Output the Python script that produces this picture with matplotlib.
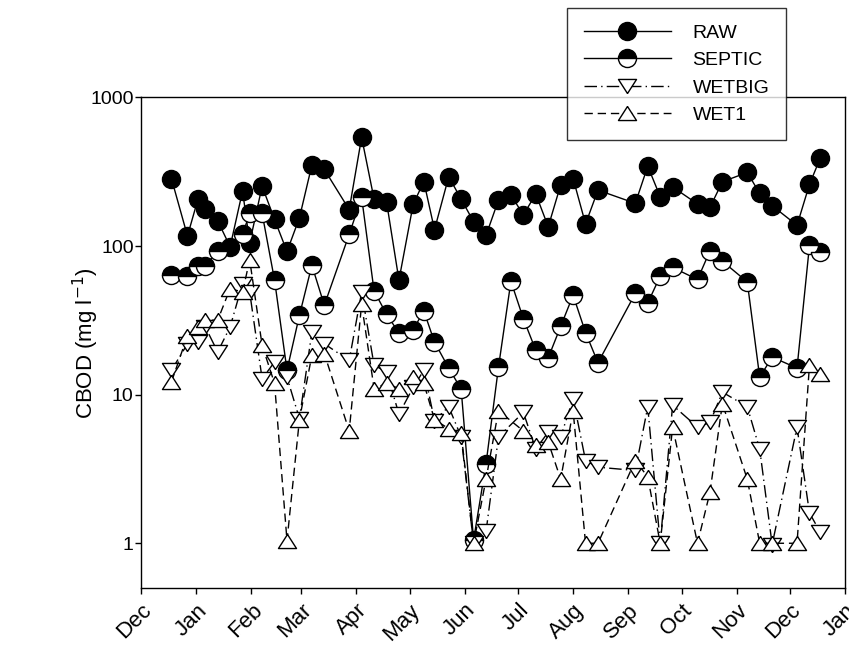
import numpy as np
import pandas as pd
import matplotlib
matplotlib.use("Agg")
import matplotlib.pyplot as plt
import matplotlib.ticker as mticker

plt.rcParams["font.family"] = ["Liberation Sans", "DejaVu Sans"]

# ---- data ----
raw_dates = ["2001-12-18", "2001-12-27", "2002-01-02", "2002-01-06", "2002-01-13",
             "2002-01-20", "2002-01-27", "2002-01-31", "2002-02-07", "2002-02-14",
             "2002-02-21", "2002-02-28", "2002-03-07", "2002-03-14", "2002-03-28",
             "2002-04-04", "2002-04-11", "2002-04-18", "2002-04-25", "2002-05-03",
             "2002-05-09", "2002-05-15", "2002-05-23", "2002-05-30", "2002-06-06",
             "2002-06-13", "2002-06-20", "2002-06-27", "2002-07-04", "2002-07-11",
             "2002-07-18", "2002-07-25", "2002-08-01", "2002-08-08", "2002-08-15",
             "2002-09-05", "2002-09-12", "2002-09-19", "2002-09-26", "2002-10-10",
             "2002-10-17", "2002-10-24", "2002-11-07", "2002-11-14", "2002-11-21",
             "2002-12-05", "2002-12-12", "2002-12-18"]
raw = [284, 117, 209, 177, 148, 99, 235, 105, 253, 151,
       92, 155, 351, 328, 176, 539, 207, 199, 59, 191,
       272, 129, 293, 207, 146, 118, 204, 221, 162, 224,
       135, 258, 285, 141, 238, 194, 345, 215, 250, 192,
       182, 271, 313, 226, 187, 138, 260, 389]

septic_dates = ["2001-12-18", "2001-12-27", "2002-01-02", "2002-01-06", "2002-01-13",
                "2002-01-27", "2002-01-31", "2002-02-07", "2002-02-14", "2002-02-21",
                "2002-02-28", "2002-03-07", "2002-03-14", "2002-03-28", "2002-04-04",
                "2002-04-11", "2002-04-18", "2002-04-25", "2002-05-03", "2002-05-09",
                "2002-05-15", "2002-05-23", "2002-05-30", "2002-06-06", "2002-06-13",
                "2002-06-20", "2002-06-27", "2002-07-04", "2002-07-11", "2002-07-18",
                "2002-07-25", "2002-08-01", "2002-08-08", "2002-08-15", "2002-09-05",
                "2002-09-12", "2002-09-19", "2002-09-26", "2002-10-10", "2002-10-17",
                "2002-10-24", "2002-11-07", "2002-11-14", "2002-11-21", "2002-12-05",
                "2002-12-12", "2002-12-18"]
septic = [63.7, 62.7, 73.6, 73.2, 92.8, 120, 166, 166, 59, 14.6,
          34.2, 74.3, 40, 120, 213, 49.9, 34.8, 26, 27.4, 36.6,
          22.6, 15.1, 10.9, 1.05, 3.43, 15.3, 58, 32.5, 19.9, 17.7,
          28.8, 46.7, 26.2, 16.4, 48, 41.4, 62.7, 71.8, 59.6, 92.8,
          79.1, 57.4, 13.1, 17.9, 15.1, 101, 91.4]

wet_dates = ["2001-12-18", "2001-12-27", "2002-01-02", "2002-01-06", "2002-01-13",
             "2002-01-20", "2002-01-27", "2002-01-31", "2002-02-07", "2002-02-14",
             "2002-02-21", "2002-02-28", "2002-03-07", "2002-03-14", "2002-03-28",
             "2002-04-04", "2002-04-11", "2002-04-18", "2002-04-25", "2002-05-03",
             "2002-05-09", "2002-05-15", "2002-05-23", "2002-05-30", "2002-06-06",
             "2002-06-13", "2002-06-20", "2002-07-04", "2002-07-11", "2002-07-18",
             "2002-07-25", "2002-08-01", "2002-08-08", "2002-08-15", "2002-09-05",
             "2002-09-12", "2002-09-19", "2002-09-26", "2002-10-10", "2002-10-17",
             "2002-10-24", "2002-11-07", "2002-11-14", "2002-11-21", "2002-12-05",
             "2002-12-12", "2002-12-18"]
wetbig = [14.6, 22, 22.6, 28.6, 19.4, 28.6, 56, 49, 12.8, 16.6,
          13.1, 6.9, 26.4, 22, 17, 49, 15.8, 14.2, 7.4, 11.2,
          14.6, 6.7, 8.3, 5.2, 1.0, 1.2, 5.2, 7.6, 4.3, 5.6,
          5.2, 9.4, 3.6, 3.25, 3.09, 8.3, 1.0, 8.5, 6.05, 6.5,
          10.4, 8.3, 4.3, 0.98, 6.05, 1.6, 1.19]
wet1 = [12.2, 25, 28.6, 31.7, 31.7, 51.8, 49, 81, 21.5, 11.9,
        1.04, 6.8, 18.4, 18.9, 5.7, 40.6, 11, 11.9, 11, 13.1,
        11.9, 6.8, 5.9, 5.5, 1.0, 2.7, 7.8, 5.7, 4.6, 4.8,
        2.7, 7.8, 1.0, 1.0, 3.6, 2.8, 1.0, 6.05, 1.0, 2.2,
        8.7, 2.7, 1.0, 1.0, 1.0, 15.8, 13.7]

# flattened triangles like the original
tri_up = [(0, 0.78), (-1, -0.78), (1, -0.78), (0, 0.78)]
tri_down = [(0, -0.78), (-1, 0.78), (1, 0.78), (0, -0.78)]

fig = plt.figure(figsize=(8.49, 6.5), dpi=100)
ax = fig.add_axes([0.1664, 0.0954, 0.8289, 0.7546])

ax.plot(pd.to_datetime(raw_dates), raw, color="black", lw=1.0,
        marker="o", ms=13, mfc="black", mec="black", mew=1.0, label="RAW")
ax.plot(pd.to_datetime(septic_dates), septic, color="black", lw=1.0,
        marker="o", ms=13, fillstyle="top", mfc="black", mfcalt="white",
        mec="black", mew=1.0, label="SEPTIC")
ax.plot(pd.to_datetime(wet_dates), wetbig, color="black", lw=1.0,
        linestyle=(0, (9, 3, 1, 3)),
        marker=tri_down, ms=13, mfc="white", mec="black", mew=1.0, label="WETBIG")
ax.plot(pd.to_datetime(wet_dates), wet1, color="black", lw=1.0,
        linestyle=(0, (6, 3.5)),
        marker=tri_up, ms=13, mfc="white", mec="black", mew=1.0, label="WET1")

ax.set_yscale("log")
ax.set_ylim(0.5, 1000)
ax.yaxis.set_major_locator(mticker.FixedLocator([1, 10, 100, 1000]))
ax.yaxis.set_major_formatter(mticker.FixedFormatter(["1", "10", "100", "1000"]))
ax.yaxis.set_minor_locator(mticker.NullLocator())

months = pd.date_range("2001-12-01", "2003-01-01", freq="MS")
ax.set_xlim(months[0], months[-1])
ax.set_xticks(months)
ax.set_xticklabels([m.strftime("%b") for m in months], rotation=45,
                   ha="right", rotation_mode="anchor", fontsize=16)
ax.xaxis.set_minor_locator(mticker.NullLocator())

ax.tick_params(axis="both", direction="out", length=4.5, width=1.0,
               colors="black")
ax.tick_params(axis="y", pad=1, labelsize=14)
ax.tick_params(axis="x", pad=4)
for s in ax.spines.values():
    s.set_linewidth(1.0)

ax.set_ylabel("CBOD (mg l$^{-1}$)", fontsize=16)
ax.yaxis.set_label_coords(-0.057, 0.5)

leg = ax.legend(loc="upper left", bbox_to_anchor=(0.605, 1.183),
                fontsize=14, frameon=True, fancybox=False, shadow=False,
                handlelength=4.5, handletextpad=1.1, labelspacing=0.5,
                borderpad=0.85, borderaxespad=0)
leg.get_frame().set_edgecolor("black")
leg.get_frame().set_linewidth(1.0)
for h in leg.legend_handles:
    h.set_markersize(13)

fig.savefig("out.png", dpi=100, facecolor="white")
